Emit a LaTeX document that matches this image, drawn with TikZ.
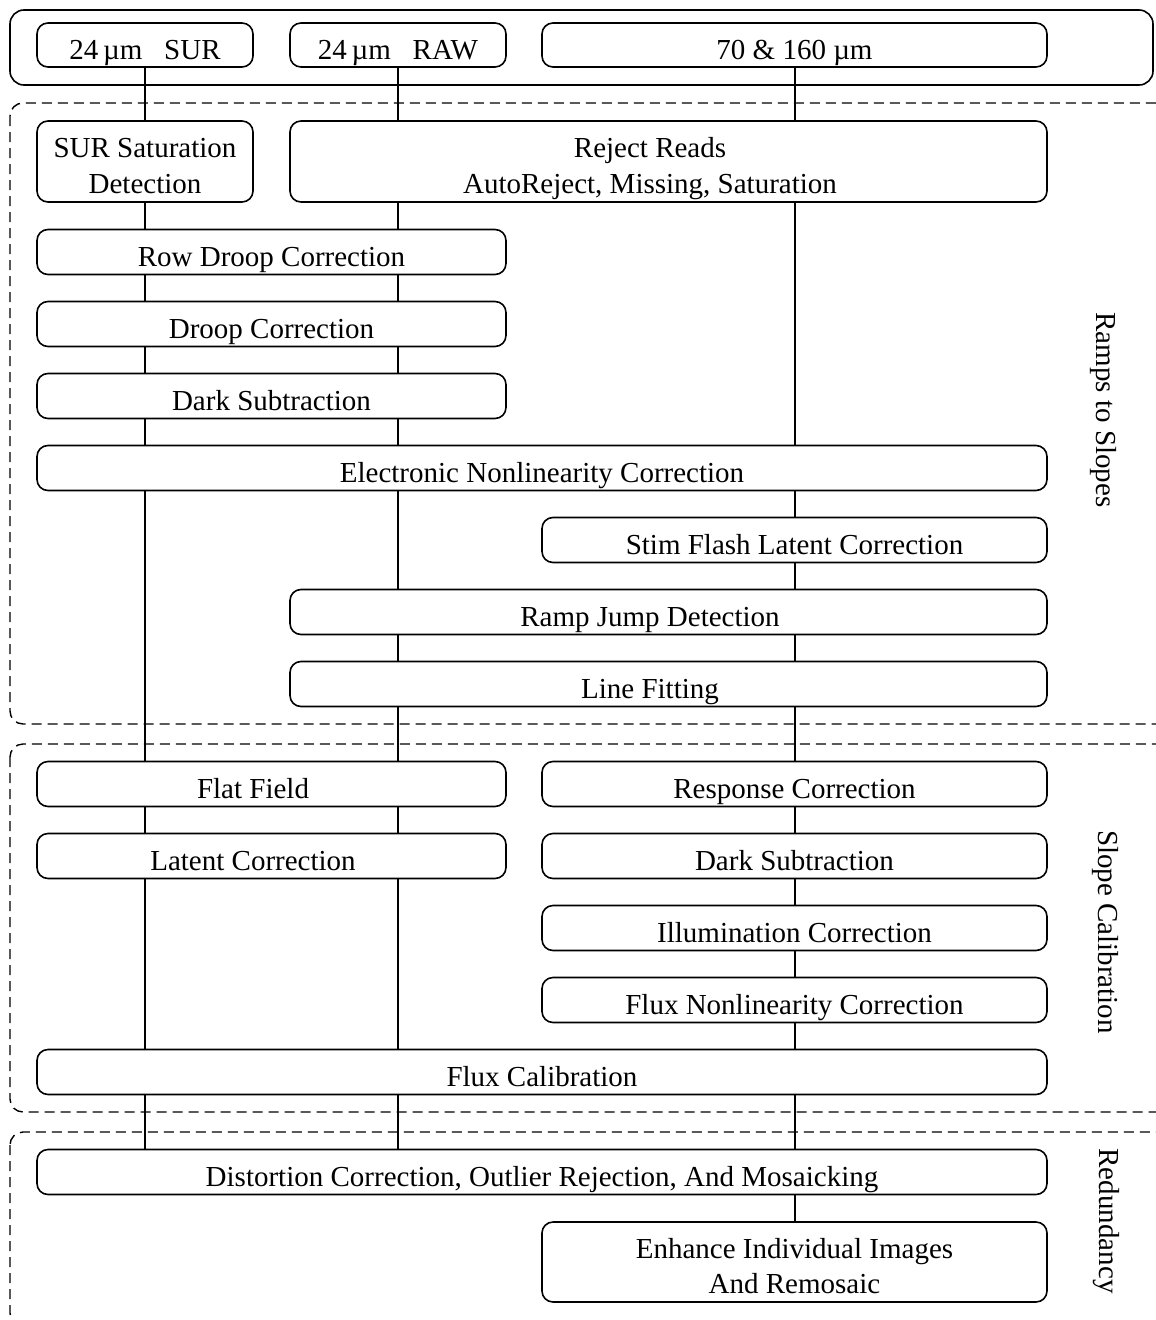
\documentclass[tikz,border=0pt]{standalone}
\usepackage{fontspec}
\setmainfont{Liberation Serif}
\newcommand\diagfont{\fontsize{29}{35.6}\selectfont}
\begin{document}
\begin{tikzpicture}[x=1pt,y=-1pt,
  box/.style={draw,line width=1.6pt,rounded corners=11pt,inner sep=0pt,font=\diagfont,align=center,text height=28pt,text depth=0pt},
  twoline/.style={text height=63.6pt,text depth=0pt},
  lab/.style={inner sep=0pt,font=\diagfont,align=center,text height=28pt,text depth=0pt},
  conn/.style={line width=1.3pt},
  region/.style={line width=1.4pt,dash pattern=on 10pt off 6pt,rounded corners=13pt},
  side/.style={rotate=-90,font=\diagfont,inner sep=0pt}]
\useasboundingbox (0,0) rectangle (1156,1320);
\clip (0,0) rectangle (1156,1320);
% group frames
\draw[line width=1.6pt,rounded corners=14pt] (10,10) rectangle (1153,85);
\draw[region] (10,103) rectangle (1185,724);
\draw[region] (10,744) rectangle (1185,1112);
\draw[region] (10,1132) rectangle (1185,1326);
% column coordinates
\coordinate (c1) at (145,0);
\coordinate (c2) at (398,0);
\coordinate (c3) at (795,0);
% inputs
\node[box,minimum width=216pt,minimum height=44pt] (in1) at (145,45) {24\,µm\hspace{0.75em}SUR};
\node[box,minimum width=216pt,minimum height=44pt] (in2) at (398,45) {24\,µm\hspace{0.75em}RAW};
\node[box,minimum width=505pt,minimum height=44pt] (in3) at (794.5,45) {70 \& 160 µm};
% ramps to slopes
\node[box,twoline,minimum width=216pt,minimum height=81pt] (sur) at (145,161.5) {SUR Saturation\\Detection};
\node[box,minimum width=757pt,minimum height=81pt] (rr) at (668.5,161.5) {};
\node[lab,twoline] (rrl) at (650,161.5) {Reject Reads\\AutoReject, Missing, Saturation};
\node[box,minimum width=469pt,minimum height=45pt] (rdc) at (271.5,252) {Row Droop Correction};
\node[box,minimum width=469pt,minimum height=45pt] (dc) at (271.5,324) {Droop Correction};
\node[box,minimum width=469pt,minimum height=45pt] (ds1) at (271.5,396) {Dark Subtraction};
\node[box,minimum width=1010pt,minimum height=45pt] (enl) at (542,468) {Electronic Nonlinearity Correction};
\node[box,minimum width=505pt,minimum height=45pt] (sfl) at (794.5,540) {Stim Flash Latent Correction};
\node[box,minimum width=757pt,minimum height=45pt] (rjd) at (668.5,612) {};
\node[lab] (rjdl) at (650,612) {Ramp Jump Detection};
\node[box,minimum width=757pt,minimum height=45pt] (lf) at (668.5,684) {};
\node[lab] (lfl) at (650,684) {Line Fitting};
% slope calibration
\node[box,minimum width=469pt,minimum height=45pt] (ff) at (271.5,784) {};
\node[lab] (ffl) at (253,784) {Flat Field};
\node[box,minimum width=505pt,minimum height=45pt] (rc) at (794.5,784) {Response Correction};
\node[box,minimum width=469pt,minimum height=45pt] (lc) at (271.5,856) {};
\node[lab] (lcl) at (253,856) {Latent Correction};
\node[box,minimum width=505pt,minimum height=45pt] (ds2) at (794.5,856) {Dark Subtraction};
\node[box,minimum width=505pt,minimum height=45pt] (ic) at (794.5,928) {Illumination Correction};
\node[box,minimum width=505pt,minimum height=45pt] (fnl) at (794.5,1000) {Flux Nonlinearity Correction};
\node[box,minimum width=1010pt,minimum height=45pt] (fc) at (542,1072) {Flux Calibration};
% redundancy
\node[box,minimum width=1010pt,minimum height=45pt] (dcm) at (542,1172) {Distortion Correction, Outlier Rejection, And Mosaicking};
\node[box,twoline,minimum width=505pt,minimum height=80pt] (eii) at (794.5,1262) {Enhance Individual Images\\And Remosaic};
% side labels
\node[side] (s1) at (1103,410) {Ramps to Slopes};
\node[side] (s2) at (1105,932) {Slope Calibration};
\node[side] (s3) at (1106,1221) {Redundancy};
% connectors
\foreach \a/\b in {in1/sur,sur/rdc,rdc/dc,dc/ds1,ds1/enl,enl/ff,ff/lc,lc/fc,fc/dcm}
  \draw[conn] (\a.south -| c1) -- (\b.north -| c1);
\foreach \a/\b in {in2/rr,rr/rdc,rdc/dc,dc/ds1,ds1/enl,enl/rjd,rjd/lf,lf/ff,ff/lc,lc/fc,fc/dcm}
  \draw[conn] (\a.south -| c2) -- (\b.north -| c2);
\foreach \a/\b in {in3/rr,rr/enl,enl/sfl,sfl/rjd,rjd/lf,lf/rc,rc/ds2,ds2/ic,ic/fnl,fnl/fc,fc/dcm,dcm/eii}
  \draw[conn] (\a.south -| c3) -- (\b.north -| c3);
\end{tikzpicture}
\end{document}
